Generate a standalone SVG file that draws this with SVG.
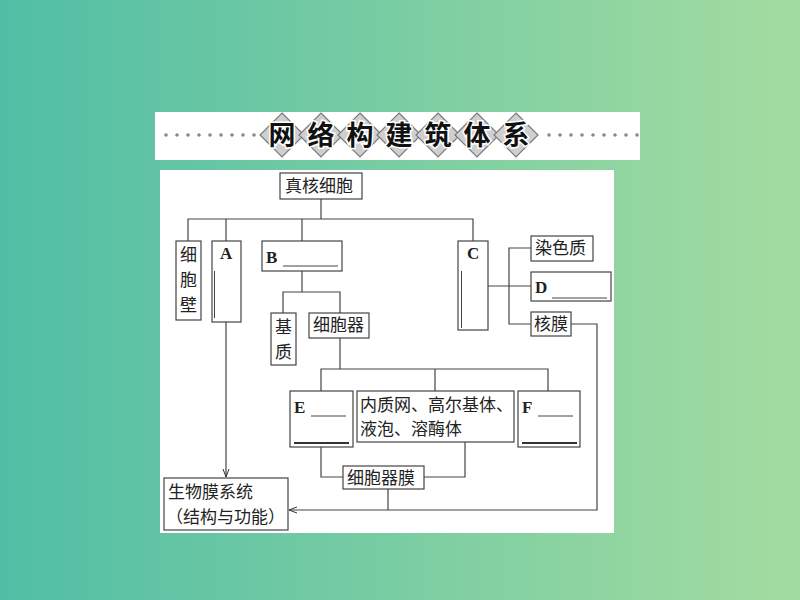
<svg xmlns="http://www.w3.org/2000/svg" width="800" height="600" viewBox="0 0 800 600">
<defs>
<linearGradient id="bg" x1="0" y1="0" x2="1" y2="0">
<stop offset="0" stop-color="#50bea5"/>
<stop offset="1" stop-color="#a4dca0"/>
</linearGradient>
<marker id="arr" markerWidth="10" markerHeight="8" refX="9" refY="4" orient="auto" markerUnits="userSpaceOnUse">
<path d="M1,1 L9,4 L1,7" fill="none" stroke="#333" stroke-width="1"/>
</marker>
<style>
.box{fill:#fff;stroke:#444;stroke-width:1.2}
.ln{fill:none;stroke:#444;stroke-width:1.2}
.t{font-family:"Noto Sans CJK SC","Noto Sans",sans-serif;font-size:17px;fill:#222}
.l{font-family:"Liberation Serif",serif;font-size:17px;font-weight:bold;fill:#222}
.ul{stroke:#444;stroke-width:1}
.thick{stroke:#333;stroke-width:2.2}
.dm{fill:#cfcfcf;stroke:#7a7a7a;stroke-width:1.2}
.tt{font-family:"Noto Sans CJK SC",sans-serif;font-size:27px;font-weight:bold;fill:#111;stroke:#fff;stroke-width:3;paint-order:stroke;text-anchor:middle}
.dot{fill:#888}
</style>
</defs>
<rect width="800" height="600" fill="url(#bg)"/>

<g id="title">
<rect x="155" y="112" width="485" height="48" fill="#fff"/>
<g>
<circle class="dot" cx="166" cy="135" r="1.8"/><circle class="dot" cx="177" cy="135" r="1.8"/><circle class="dot" cx="188" cy="135" r="1.8"/><circle class="dot" cx="199" cy="135" r="1.8"/><circle class="dot" cx="210" cy="135" r="1.8"/><circle class="dot" cx="221" cy="135" r="1.8"/><circle class="dot" cx="232" cy="135" r="1.8"/><circle class="dot" cx="243" cy="135" r="1.8"/><circle class="dot" cx="254" cy="135" r="1.8"/>
<circle class="dot" cx="549" cy="135" r="1.8"/><circle class="dot" cx="560" cy="135" r="1.8"/><circle class="dot" cx="571" cy="135" r="1.8"/><circle class="dot" cx="582" cy="135" r="1.8"/><circle class="dot" cx="593" cy="135" r="1.8"/><circle class="dot" cx="604" cy="135" r="1.8"/><circle class="dot" cx="615" cy="135" r="1.8"/><circle class="dot" cx="626" cy="135" r="1.8"/><circle class="dot" cx="637" cy="135" r="1.8"/>
</g>
<g>
<path class="dm" d="M282,113 L304,135 L282,157 L260,135 Z"/>
<path class="dm" d="M321,113 L343,135 L321,157 L299,135 Z"/>
<path class="dm" d="M360,113 L382,135 L360,157 L338,135 Z"/>
<path class="dm" d="M399,113 L421,135 L399,157 L377,135 Z"/>
<path class="dm" d="M438,113 L460,135 L438,157 L416,135 Z"/>
<path class="dm" d="M477,113 L499,135 L477,157 L455,135 Z"/>
<path class="dm" d="M516,113 L538,135 L516,157 L494,135 Z"/>
</g>
<text class="tt" x="282" y="145">网</text>
<text class="tt" x="321" y="145">络</text>
<text class="tt" x="360" y="145">构</text>
<text class="tt" x="399" y="145">建</text>
<text class="tt" x="438" y="145">筑</text>
<text class="tt" x="477" y="145">体</text>
<text class="tt" x="516" y="145">系</text>
</g>

<rect x="160" y="170" width="454" height="363" fill="#fff"/>

<g id="connectors">
<path class="ln" d="M321,199 V219"/>
<path class="ln" d="M188,241 V219 H473 V241"/>
<path class="ln" d="M226,219 V241"/>
<path class="ln" d="M302,219 V241"/>
<path class="ln" d="M302,271 V292"/>
<path class="ln" d="M283,313 V292 H340 V313"/>
<path class="ln" d="M340,338 V369"/>
<path class="ln" d="M321,391 V369 H548 V391"/>
<path class="ln" d="M435,369 V391"/>
<path class="ln" d="M321,447 V477 H343"/>
<path class="ln" d="M424,477 H465 V442"/>
<path class="ln" d="M388,489 V510"/>
<path class="ln" d="M488,286 H531"/>
<path class="ln" d="M531,248 H509 V324 H531"/>
<path class="ln" d="M571,324 H597 V510 H289" marker-end="url(#arr)"/>
<path class="ln" d="M226,322 V477" marker-end="url(#arr)"/>
</g>

<g id="n-eukaryote">
<rect class="box" x="280" y="173" width="82" height="26"/>
<text class="t" x="285" y="192">真核细胞</text>
</g>
<g id="n-cellwall">
<rect class="box" x="176" y="241" width="25" height="79"/>
<text class="t" x="180" y="261">细</text>
<text class="t" x="180" y="286">胞</text>
<text class="t" x="180" y="311">壁</text>
</g>
<g id="n-A">
<rect class="box" x="212" y="241" width="29" height="81"/>
<text class="l" x="220" y="259">A</text>
<path class="ul" d="M214.5,271 V318"/>
</g>
<g id="n-B">
<rect class="box" x="262" y="241" width="80" height="30"/>
<text class="l" x="266" y="263">B</text>
<path class="ul" d="M283,266 H338"/>
</g>
<g id="n-matrix">
<rect class="box" x="271" y="313" width="25" height="52"/>
<text class="t" x="275" y="333">基</text>
<text class="t" x="275" y="358">质</text>
</g>
<g id="n-organelle">
<rect class="box" x="309" y="313" width="60" height="25"/>
<text class="t" x="313" y="331">细胞器</text>
</g>
<g id="n-E">
<rect class="box" x="290" y="391" width="63" height="56"/>
<text class="l" x="294" y="413">E</text>
<path class="ul" d="M311,416 H346"/>
<path class="thick" d="M294,443 H349"/>
</g>
<g id="n-er">
<rect class="box" x="357" y="391" width="157" height="51"/>
<text class="t" x="360" y="411">内质网、高尔基体、</text>
<text class="t" x="360" y="435">液泡、溶酶体</text>
</g>
<g id="n-F">
<rect class="box" x="518" y="391" width="62" height="56"/>
<text class="l" x="522" y="413">F</text>
<path class="ul" d="M538,416 H573"/>
<path class="thick" d="M522,443 H577"/>
</g>
<g id="n-orgmem">
<rect class="box" x="343" y="466" width="81" height="23"/>
<text class="t" x="347" y="484">细胞器膜</text>
</g>
<g id="n-biomem">
<rect class="box" x="164" y="478" width="124" height="52"/>
<text class="t" x="168" y="498">生物膜系统</text>
<text class="t" x="166" y="523">（结构与功能）</text>
</g>
<g id="n-C">
<rect class="box" x="458" y="241" width="30" height="89"/>
<text class="l" x="467" y="259">C</text>
<path class="ul" d="M461.5,271 V328"/>
</g>
<g id="n-chromatin">
<rect class="box" x="531" y="236" width="62" height="25"/>
<text class="t" x="535" y="254">染色质</text>
</g>
<g id="n-D">
<rect class="box" x="531" y="272" width="80" height="29"/>
<text class="l" x="535" y="293">D</text>
<path class="ul" d="M552,298 H607"/>
</g>
<g id="n-nucmem">
<rect class="box" x="531" y="312" width="40" height="24"/>
<text class="t" x="534" y="330">核膜</text>
</g>
</svg>
